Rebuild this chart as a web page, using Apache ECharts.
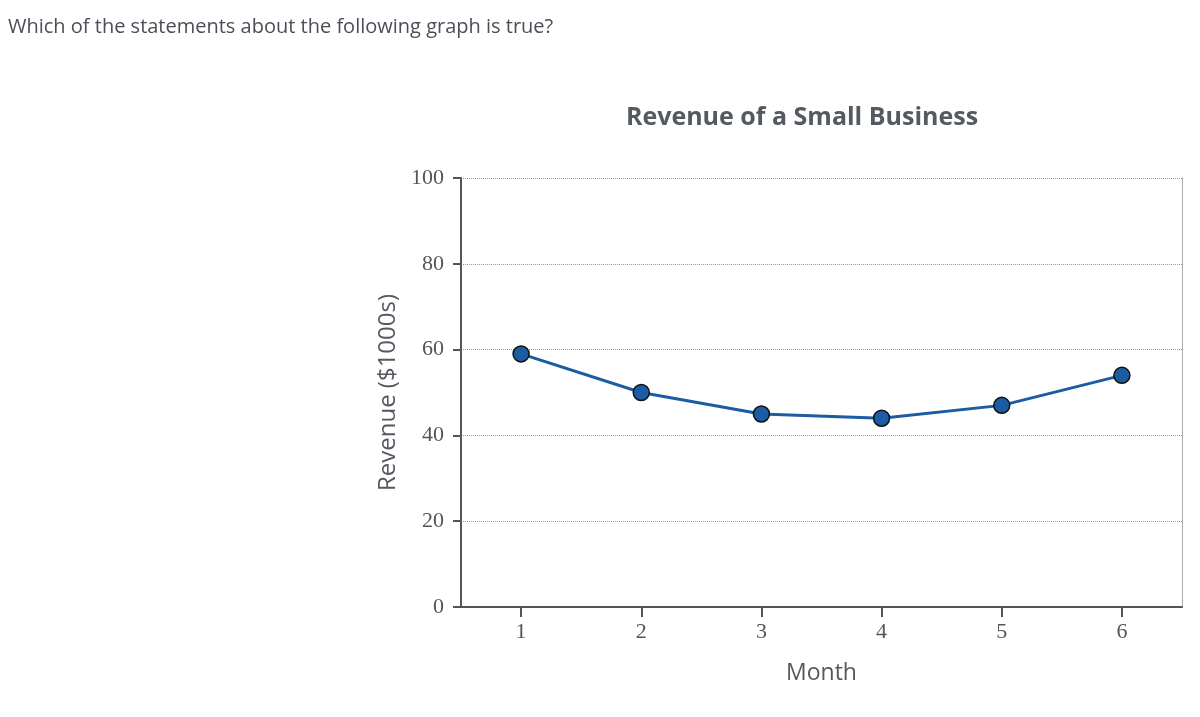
<!DOCTYPE html>
<html>
<head>
<meta charset="utf-8">
<script src="https://cdn.jsdelivr.net/npm/echarts@6/dist/echarts.min.js"></script>
<style>
html,body{margin:0;padding:0;background:#fff;}
#q{position:absolute;left:8px;top:12px;font-family:"Open Sans",sans-serif;font-size:20px;color:#4a4f57;}
#c{width:1200px;height:717px;}
</style>
</head>
<body>
<div id="c"></div>
<div id="q">Which of the statements about the following graph is true?</div>
<script>
const months = ['1','2','3','4','5','6'];
const revenue = [59, 50, 45, 44, 47, 54];
const yTicks = {min: 0, max: 100, interval: 20};

const chart = echarts.init(document.getElementById('c'));
chart.setOption({
  animation: false,
  title: {
    text: 'Revenue of a Small Business',
    left: 797, top: 100, textAlign: 'center',
    textStyle: {fontFamily: 'Open Sans', fontSize: 25, fontWeight: 'bold', color: '#555a60'}
  },
  grid: {left: 461, right: 18, top: 178, bottom: 110},
  xAxis: {
    type: 'category', data: months, boundaryGap: true,
    name: 'Month', nameLocation: 'middle', nameGap: 55,
    nameTextStyle: {fontFamily: 'Open Sans', fontSize: 23, color: '#555a60'},
    axisLine: {show: true, lineStyle: {color: '#555', width: 2}},
    axisTick: {show: true, alignWithLabel: true, interval: 0, length: 10, lineStyle: {color: '#555', width: 2}},
    axisLabel: {margin: 14, fontFamily: 'Liberation Serif', fontSize: 22, color: '#555'},
    splitLine: {show: false}
  },
  yAxis: [{
    type: 'value', min: yTicks.min, max: yTicks.max, interval: yTicks.interval,
    name: 'Revenue ($1000s)', nameLocation: 'middle', nameGap: 58,
    nameTextStyle: {fontFamily: 'Open Sans', fontSize: 24, color: '#555a60'},
    axisLine: {show: true, lineStyle: {color: '#555', width: 2}},
    axisTick: {show: true, length: 8, lineStyle: {color: '#555', width: 2}},
    axisLabel: {margin: 17, fontFamily: 'Liberation Serif', fontSize: 22, color: '#555'},
    splitLine: {show: true, lineStyle: {type: 'dotted', color: '#999', width: 1}}
  }, {
    type: 'value', min: yTicks.min, max: yTicks.max, interval: yTicks.interval, position: 'right',
    axisLine: {show: true, lineStyle: {type: 'dotted', color: '#999', width: 1}},
    axisTick: {show: false}, axisLabel: {show: false}, splitLine: {show: false}
  }],
  series: [{
    type: 'line', data: revenue, yAxisIndex: 0,
    symbol: 'circle', symbolSize: 16,
    lineStyle: {color: '#1b5ca3', width: 3},
    itemStyle: {color: '#1b5ca3', borderColor: '#111', borderWidth: 1.5}
  }]
});
</script>
</body>
</html>
